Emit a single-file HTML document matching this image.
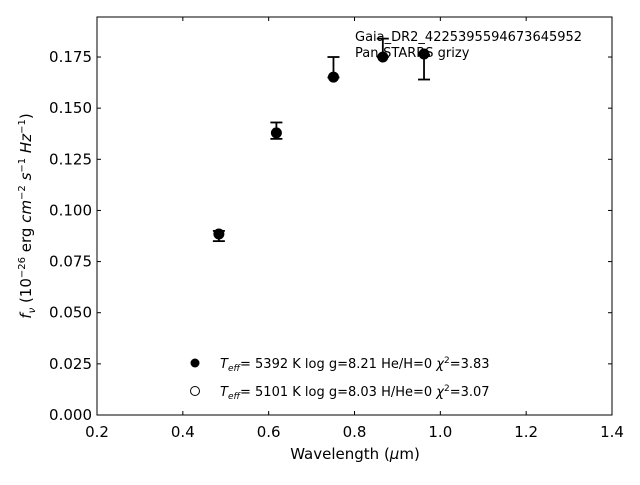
<!DOCTYPE html>
<html><head><meta charset="utf-8"><style>
body{margin:0;background:#fff;}
svg text{font-family:"DejaVu Sans","Liberation Sans",sans-serif;}
</style></head><body>
<svg id="chart" width="640" height="480" xmlns="http://www.w3.org/2000/svg">
<rect width="640" height="480" fill="#fff"/>
<g id="axes"></g>
<g id="marks"></g>
<text x="355" y="41" font-size="13">Gaia_DR2_4225395594673645952</text>
<text x="355" y="57" font-size="13">Pan-STARRS grizy</text>
<circle cx="195" cy="363" r="4.5" fill="#000"/>
<text x="220" y="368" font-size="13"><tspan font-style="italic">T</tspan><tspan font-style="italic" font-size="9" dy="3">eff</tspan><tspan dy="-3">=  5392 K  log g=8.21  He/H=0  </tspan><tspan font-style="italic">χ</tspan><tspan font-size="9" dy="-5">2</tspan><tspan dy="5">=3.83</tspan></text>
<circle cx="195" cy="391" r="4.5" fill="#fff" stroke="#000"/>
<text x="220" y="396" font-size="13"><tspan font-style="italic">T</tspan><tspan font-style="italic" font-size="9" dy="3">eff</tspan><tspan dy="-3">=  5101 K  log g=8.03  H/He=0  </tspan><tspan font-style="italic">χ</tspan><tspan font-size="9" dy="-5">2</tspan><tspan dy="5">=3.07</tspan></text>
<text x="355" y="459" font-size="15" text-anchor="middle">Wavelength (<tspan font-style="italic">μ</tspan>m)</text>
<text transform="translate(31,216) rotate(-90)" font-size="15" text-anchor="middle"><tspan font-style="italic">f</tspan><tspan font-style="italic" font-size="10" dy="4">ν</tspan><tspan dy="-4"> (10</tspan><tspan font-size="10" dy="-6">−26</tspan><tspan dy="6"> erg </tspan><tspan font-style="italic">cm</tspan><tspan font-size="10" dy="-6">−2</tspan><tspan dy="6"> </tspan><tspan font-style="italic">s</tspan><tspan font-size="10" dy="-6">−1</tspan><tspan dy="6"> </tspan><tspan font-style="italic">Hz</tspan><tspan font-size="10" dy="-6">−1</tspan><tspan dy="6">)</tspan></text>
</svg>
<script>
const wavelengths=[0.484,0.618,0.751,0.866,0.962];
const obsFlux=[0.0875,0.139,0.170,0.1795,0.170];
const obsErr=[0.0025,0.004,0.005,0.0045,0.006];
const modelFlux=[0.0885,0.1379,0.1652,0.175,0.1765];
const modelFlux2=[0.0885,0.1379,0.1652,0.175,0.1765];
const xTicks=[0.2,0.4,0.6,0.8,1.0,1.2,1.4];
const yTicks=[0,0.025,0.05,0.075,0.1,0.125,0.15,0.175];
const X0=97,X1=612,Y0=415,Y1=17;
const xs=v=>X0+(v-0.2)/1.2*(X1-X0);
const ys=v=>Y0-v*2045.6;
const NS="http://www.w3.org/2000/svg";
function mk(parent,tag,attrs){const e=document.createElementNS(NS,tag);for(const k in attrs)e.setAttribute(k,attrs[k]);parent.appendChild(e);return e;}
const ax=document.getElementById('axes'),mg=document.getElementById('marks');
const frame=mk(ax,'rect',{x:X0,y:Y1,width:X1-X0,height:Y0-Y1,fill:'none',stroke:'#000','stroke-width':1});


xTicks.forEach(t=>{const x=xs(t);
 const l=mk(ax,'line',{x1:x,x2:x,y1:Y0,y2:Y0-4,stroke:'#000'});
 
 
 const l2=mk(ax,'line',{x1:x,x2:x,y1:Y1,y2:Y1+4,stroke:'#000'});
 
 
 const tx=mk(ax,'text',{x:x,y:Y0+22,'font-size':15,'text-anchor':'middle'});tx.textContent=t.toFixed(1);
 
 });
yTicks.forEach(t=>{const y=ys(t);
 const l=mk(ax,'line',{x1:X0,x2:X0+4,y1:y,y2:y,stroke:'#000'});
 
 
 const l2=mk(ax,'line',{x1:X1,x2:X1-4,y1:y,y2:y,stroke:'#000'});
 
 
 const tx=mk(ax,'text',{x:X0-5,y:y+5,'font-size':15,'text-anchor':'end'});tx.textContent=t.toFixed(3);
 
 });
wavelengths.forEach((w,i)=>{const x=xs(w);
 const o=mk(mg,'circle',{cx:x,cy:ys(modelFlux2[i]),r:5,fill:'#fff',stroke:'#000'});
 
 
 const top=ys(obsFlux[i]+obsErr[i]),bot=ys(obsFlux[i]-obsErr[i]);
 const g=mk(mg,'g',{stroke:'#000','stroke-width':1.8});
 
 
 mk(g,'line',{x1:x,x2:x,y1:top,y2:bot});
 mk(g,'line',{x1:x-6,x2:x+6,y1:top,y2:top});
 mk(g,'line',{x1:x-6,x2:x+6,y1:bot,y2:bot});
 const c=mk(mg,'circle',{cx:x,cy:ys(modelFlux[i]),r:5,fill:'#000'});
 
 });
</script>
</body></html>
